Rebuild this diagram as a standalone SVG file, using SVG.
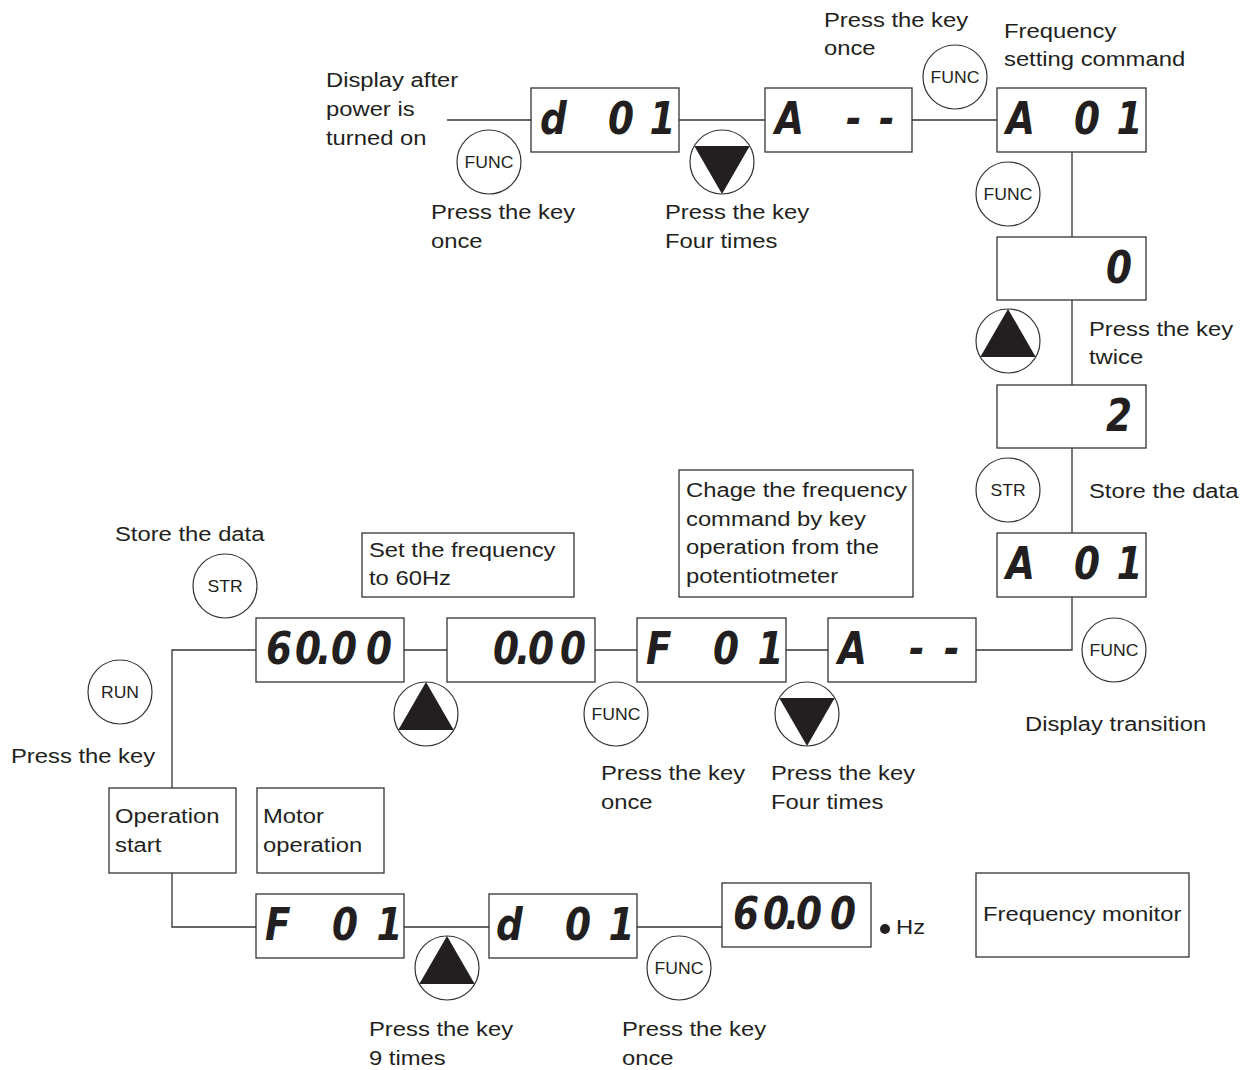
<svg xmlns="http://www.w3.org/2000/svg" width="1249" height="1070" viewBox="0 0 1249 1070">
<style>
.bx{fill:#fff;stroke:#333;stroke-width:1.3}
.ln{fill:none;stroke:#333;stroke-width:1.3}
.ck{fill:#fff;stroke:#333;stroke-width:1.2}
.tri{fill:#231f20}
.t{font-family:"Liberation Sans",Arial,sans-serif;font-size:20px;fill:#231f20}
.k{font-family:"Liberation Sans",Arial,sans-serif;font-size:16px;fill:#231f20;text-anchor:middle}
.s{font-family:"DejaVu Sans",sans-serif;font-weight:bold;font-style:italic;font-size:44px;fill:#231f20}
</style>
<rect width="1249" height="1070" fill="#fff"/>
<g id="connectors">
<line class="ln" x1="447" y1="120" x2="531" y2="120"/>
<line class="ln" x1="679" y1="120" x2="765" y2="120"/>
<line class="ln" x1="912" y1="120" x2="997" y2="120"/>
<line class="ln" x1="1072" y1="152" x2="1072" y2="237"/>
<line class="ln" x1="1072" y1="300" x2="1072" y2="385"/>
<line class="ln" x1="1072" y1="448" x2="1072" y2="533"/>
<polyline class="ln" points="1072,597 1072,650 976,650"/>
<line class="ln" x1="786" y1="650" x2="828" y2="650"/>
<line class="ln" x1="595" y1="650" x2="637" y2="650"/>
<line class="ln" x1="404" y1="650" x2="447" y2="650"/>
<polyline class="ln" points="256,650 172,650 172,788"/>
<polyline class="ln" points="172,873 172,927 256,927"/>
<line class="ln" x1="404" y1="927" x2="489" y2="927"/>
<line class="ln" x1="637" y1="927" x2="722" y2="927"/>
</g>
<g id="disp-d01-top"><rect class="bx" x="531" y="88" width="148" height="64"/><text class="s" transform="matrix(0.85 0 0 1 0 0)" x="635.3 675.3 715.3 764.1" y="134">d 01</text></g>
<g id="disp-A-top"><rect class="bx" x="765" y="88" width="147" height="64"/><text class="s" transform="matrix(0.85 0 0 1 0 0)" x="911.8 952.9 995.3 1034.1" y="134">A --</text></g>
<g id="disp-A01-top"><rect class="bx" x="997" y="88" width="149" height="64"/><text class="s" transform="matrix(0.85 0 0 1 0 0)" x="1183.5 1223.5 1263.5 1313.5" y="134">A 01</text></g>
<g id="disp-0"><rect class="bx" x="997" y="237" width="149" height="63"/><text class="s" transform="matrix(0.85 0 0 1 0 0)" x="1301.2" y="283">0</text></g>
<g id="disp-2"><rect class="bx" x="997" y="385" width="149" height="63"/><text class="s" transform="matrix(0.85 0 0 1 0 0)" x="1301.2" y="431">2</text></g>
<g id="disp-A01-low"><rect class="bx" x="997" y="533" width="149" height="64"/><text class="s" transform="matrix(0.85 0 0 1 0 0)" x="1183.5 1223.5 1263.5 1313.5" y="579">A 01</text></g>
<g id="disp-A-mid"><rect class="bx" x="828" y="618" width="148" height="64"/><text class="s" transform="matrix(0.85 0 0 1 0 0)" x="985.9 1025.9 1069.4 1110.6" y="664">A --</text></g>
<g id="disp-F01-mid"><rect class="bx" x="637" y="618" width="149" height="64"/><text class="s" transform="matrix(0.85 0 0 1 0 0)" x="760 800 838.8 891.2" y="664">F 01</text></g>
<g id="disp-000"><rect class="bx" x="447" y="618" width="148" height="64"/><text class="s" transform="matrix(0.85 0 0 1 0 0)" x="580 607.1 621.2 658.8" y="664">0.00</text></g>
<g id="disp-6000-mid"><rect class="bx" x="256" y="618" width="148" height="64"/><text class="s" transform="matrix(0.85 0 0 1 0 0)" x="312.9 347.1 372.9 389.4 430.6" y="664">60.00</text></g>
<g id="disp-F01-bot"><rect class="bx" x="256" y="894" width="148" height="64"/><text class="s" transform="matrix(0.85 0 0 1 0 0)" x="311.8 351.8 390.6 442.9" y="940">F 01</text></g>
<g id="disp-d01-bot"><rect class="bx" x="489" y="894" width="148" height="64"/><text class="s" transform="matrix(0.85 0 0 1 0 0)" x="583.5 623.5 664.7 715.9" y="940">d 01</text></g>
<g id="disp-6000-bot"><rect class="bx" x="722" y="883" width="149" height="64"/><text class="s" transform="matrix(0.85 0 0 1 0 0)" x="862.4 897.6 923.5 936.5 976.5" y="929">60.00</text></g>
<g id="hz"><circle cx="885" cy="929" r="5" fill="#231f20"/><text class="t" transform="matrix(1.19 0 0 1 896 934)">Hz</text></g>
<g id="box-op-start"><rect class="bx" x="109" y="788" width="127" height="85"/><text class="t" transform="matrix(1.19 0 0 1 115 823)"><tspan x="0">Operation</tspan><tspan x="0" dy="29">start</tspan></text></g>
<g id="box-motor"><rect class="bx" x="257" y="788" width="127" height="85"/><text class="t" transform="matrix(1.19 0 0 1 263 823)"><tspan x="0">Motor</tspan><tspan x="0" dy="29">operation</tspan></text></g>
<g id="box-freq-mon"><rect class="bx" x="976" y="873" width="213" height="84"/><text class="t" transform="matrix(1.19 0 0 1 983 921)">Frequency monitor</text></g>
<g id="box-set60"><rect class="bx" x="362" y="533" width="212" height="64"/><text class="t" transform="matrix(1.19 0 0 1 369 557)"><tspan x="0">Set the frequency</tspan><tspan x="0" dy="28.5">to 60Hz</tspan></text></g>
<g id="box-chage"><rect class="bx" x="679" y="470" width="234" height="127"/><text class="t" transform="matrix(1.19 0 0 1 686 497)"><tspan x="0">Chage the frequency</tspan><tspan x="0" dy="28.7">command by key</tspan><tspan x="0" dy="28.7">operation from the</tspan><tspan x="0" dy="28.7">potentiotmeter</tspan></text></g>
<g id="key-func-1"><circle class="ck" cx="489" cy="162" r="32"/><text class="k" transform="matrix(1.1 0 0 1 489 168)">FUNC</text></g>
<g id="key-down-1"><circle class="ck" cx="722" cy="162" r="32"/><polygon class="tri" points="694.3,146 749.7,146 722,194"/></g>
<g id="key-func-2"><circle class="ck" cx="955" cy="77" r="32"/><text class="k" transform="matrix(1.1 0 0 1 955 83)">FUNC</text></g>
<g id="key-func-3"><circle class="ck" cx="1008" cy="194" r="32"/><text class="k" transform="matrix(1.1 0 0 1 1008 200)">FUNC</text></g>
<g id="key-up-1"><circle class="ck" cx="1008" cy="341" r="32"/><polygon class="tri" points="1008,309 980.3,357 1035.7,357"/></g>
<g id="key-str-1"><circle class="ck" cx="1008" cy="490" r="32"/><text class="k" transform="matrix(1.1 0 0 1 1008 496)">STR</text></g>
<g id="key-func-4"><circle class="ck" cx="1114" cy="650" r="32"/><text class="k" transform="matrix(1.1 0 0 1 1114 656)">FUNC</text></g>
<g id="key-str-2"><circle class="ck" cx="225" cy="586" r="32"/><text class="k" transform="matrix(1.1 0 0 1 225 592)">STR</text></g>
<g id="key-run"><circle class="ck" cx="120" cy="692" r="32"/><text class="k" transform="matrix(1.1 0 0 1 120 698)">RUN</text></g>
<g id="key-up-2"><circle class="ck" cx="426" cy="714" r="32"/><polygon class="tri" points="426,682 398.3,730 453.7,730"/></g>
<g id="key-func-5"><circle class="ck" cx="616" cy="714" r="32"/><text class="k" transform="matrix(1.1 0 0 1 616 720)">FUNC</text></g>
<g id="key-down-2"><circle class="ck" cx="807" cy="714" r="32"/><polygon class="tri" points="779.3,698 834.7,698 807,746"/></g>
<g id="key-up-3"><circle class="ck" cx="447" cy="968" r="32"/><polygon class="tri" points="447,936 419.3,984 474.7,984"/></g>
<g id="key-func-6"><circle class="ck" cx="679" cy="968" r="32"/><text class="k" transform="matrix(1.1 0 0 1 679 974)">FUNC</text></g>
<g id="labels">
<text class="t" transform="matrix(1.19 0 0 1 326 87)"><tspan x="0">Display after</tspan><tspan x="0" dy="29">power is</tspan><tspan x="0" dy="29">turned on</tspan></text>
<text class="t" transform="matrix(1.19 0 0 1 431 219)"><tspan x="0">Press the key</tspan><tspan x="0" dy="29">once</tspan></text>
<text class="t" transform="matrix(1.19 0 0 1 665 219)"><tspan x="0">Press the key</tspan><tspan x="0" dy="29">Four times</tspan></text>
<text class="t" transform="matrix(1.19 0 0 1 824 27)"><tspan x="0">Press the key</tspan><tspan x="0" dy="28.5">once</tspan></text>
<text class="t" transform="matrix(1.19 0 0 1 1004 38)"><tspan x="0">Frequency</tspan><tspan x="0" dy="28.5">setting command</tspan></text>
<text class="t" transform="matrix(1.19 0 0 1 1089 336)"><tspan x="0">Press the key</tspan><tspan x="0" dy="28.5">twice</tspan></text>
<text class="t" transform="matrix(1.19 0 0 1 1089 498)">Store the data</text>
<text class="t" transform="matrix(1.19 0 0 1 115 541)">Store the data</text>
<text class="t" transform="matrix(1.19 0 0 1 11 763)">Press the key</text>
<text class="t" transform="matrix(1.19 0 0 1 601 780)"><tspan x="0">Press the key</tspan><tspan x="0" dy="29">once</tspan></text>
<text class="t" transform="matrix(1.19 0 0 1 771 780)"><tspan x="0">Press the key</tspan><tspan x="0" dy="29">Four times</tspan></text>
<text class="t" transform="matrix(1.19 0 0 1 1025 731)">Display transition</text>
<text class="t" transform="matrix(1.19 0 0 1 369 1036)"><tspan x="0">Press the key</tspan><tspan x="0" dy="29">9 times</tspan></text>
<text class="t" transform="matrix(1.19 0 0 1 622 1036)"><tspan x="0">Press the key</tspan><tspan x="0" dy="29">once</tspan></text>
</g>
</svg>
